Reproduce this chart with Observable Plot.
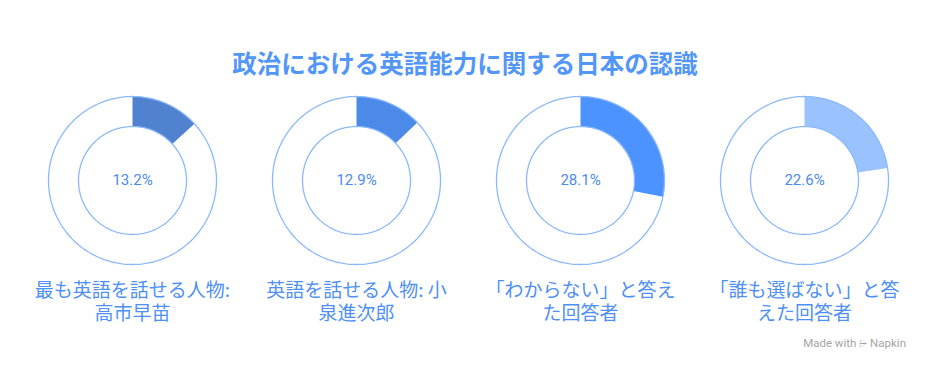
<!DOCTYPE html>
<html>
<head>
<meta charset="utf-8">
<script src="https://cdn.jsdelivr.net/npm/d3@7"></script>
<script src="https://cdn.jsdelivr.net/npm/@observablehq/plot@0.6"></script>
<style>
  html, body { margin: 0; padding: 0; background: #fff; }
  #wrap { position: relative; width: 930px; height: 372px; overflow: hidden; }
  #title { height: 80px; box-sizing: border-box; padding-top: 46px; line-height: 34px; text-align: center;
    font-family: "Noto Sans CJK JP", "Noto Sans", sans-serif; font-weight: 700; font-size: 24.5px; color: #5296f8; }
  #mark { position: absolute; right: 24px; top: 336px; font-family: Roboto, "Noto Sans", sans-serif;
    font-size: 11.5px; color: #a4a4a4; }
</style>
</head>
<body>
<div id="wrap">
  <div id="title"></div>
  <div id="chart"></div>
  <div id="mark">Made with <span style="font-size:10px">⩥</span> Napkin</div>
</div>
<script>
const titleText = "政治における英語能力に関する日本の認識";
const categories = [
  "最も英語を話せる人物:\n高市早苗",
  "英語を話せる人物: 小\n泉進次郎",
  "「わからない」と答え\nた回答者",
  "「誰も選ばない」と答\nえた回答者"
];
const values = [13.2, 12.9, 28.1, 22.6];
const sliceColors = ["#5182cf", "#4b8ae8", "#4d93ff", "#9ac2ff"];

document.getElementById("title").textContent = titleText;

const W = 930, H = 292;
const innerR = 54 / 84;

// build arc/ring geometry from the data values (unit radius = outer ring)
function arcPts(r, frac, n) {
  return d3.range(n + 1).map(i => {
    const a = 2 * Math.PI * frac * i / n;
    return [r * Math.sin(a), r * Math.cos(a)];
  });
}
const slices = [];
const rings = [];
categories.forEach((c, i) => {
  const f = values[i] / 100;
  const outer = arcPts(1, f, 90);
  const inner = arcPts(innerR, f, 90).reverse();
  outer.concat(inner).forEach(([x, y], k) => slices.push({cat: c, x, y, color: sliceColors[i], k}));
  [1, innerR].forEach((r, j) => {
    arcPts(r, 1, 180).forEach(([x, y]) => rings.push({cat: c, ring: c + j, x, y}));
  });
});
const centers = categories.map((c, i) => ({cat: c, label: values[i].toFixed(1) + "%"}));

const chart = Plot.plot({
  width: W,
  height: H,
  marginLeft: 20,
  marginRight: 14,
  marginTop: 0,
  marginBottom: 0,
  fx: {domain: categories, padding: 0, axis: null},
  x: {domain: [-4 / 3, 4 / 3], axis: null},
  y: {domain: [-192 / 84, 100 / 84], axis: null},
  marks: [
    Plot.line(slices, {fx: "cat", x: "x", y: "y", z: "cat", fill: "color", stroke: "none", curve: "linear-closed"}),
    Plot.line(rings, {fx: "cat", x: "x", y: "y", z: "ring", stroke: "#8cb9fb", strokeWidth: 1.3}),
    Plot.text(centers, {fx: "cat", x: () => 0, y: () => 0, text: "label", fill: "#4a8bf3",
      fontSize: 15, fontFamily: "Roboto, sans-serif"}),
    Plot.text(centers, {fx: "cat", text: "cat", frameAnchor: "bottom", dy: -71.5, lineAnchor: "middle",
      lineHeight: 1.21, fill: "#4f90f6", fontSize: 19, fontFamily: "'Noto Sans CJK JP', sans-serif"})
  ]
});
document.getElementById("chart").appendChild(chart);
</script>
</body>
</html>
